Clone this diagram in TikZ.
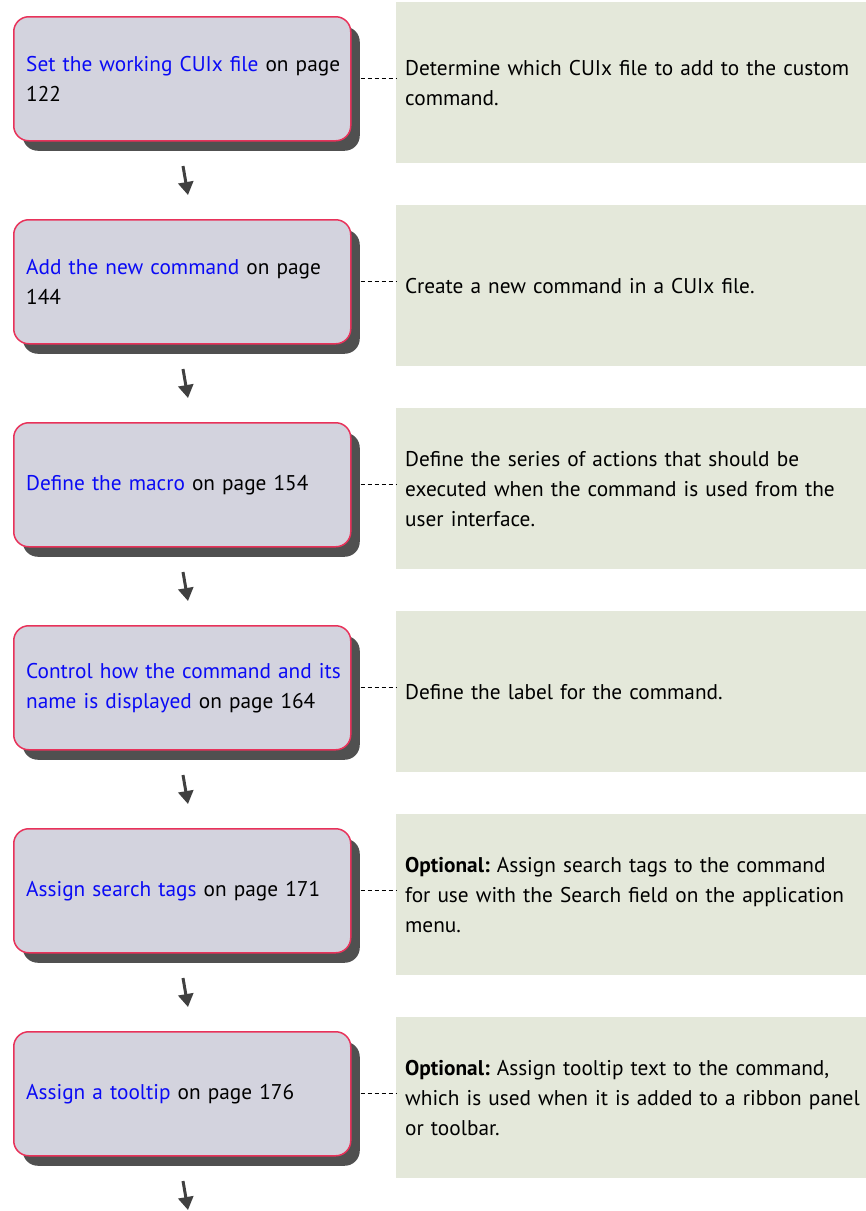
\documentclass[tikz,border=0pt]{standalone}
\usepackage{fontspec}
\setmainfont{PT Sans}
\usetikzlibrary{shadows,arrows.meta}
\definecolor{boxfill}{RGB}{211,211,222}
\definecolor{boxred}{RGB}{232,50,90}
\definecolor{notefill}{RGB}{228,232,218}
\definecolor{shadowgray}{RGB}{80,80,80}
\definecolor{arrowgray}{RGB}{64,64,64}
\definecolor{linkblue}{RGB}{10,10,245}
\tikzset{
  stepbox/.style={draw=boxred, line width=1.5pt, fill=boxfill, rounded corners=15pt,
    minimum width=337pt, minimum height=124pt, inner sep=0pt, anchor=north west,
    drop shadow={shadow xshift=9pt, shadow yshift=-10pt, fill=shadowgray, opacity=1}},
  steptext/.style={anchor=west, align=left, text width=340pt, inner sep=0pt,
    font=\fontsize{21.3}{30}\selectfont},
  notebox/.style={fill=notefill, minimum width=470pt, minimum height=161pt, inner sep=0pt, anchor=north west},
  notetext/.style={anchor=west, align=left, text width=480pt, inner sep=0pt,
    font=\fontsize{21.3}{30}\selectfont},
  dashline/.style={draw=black, line width=1.3pt, dash pattern=on 4pt off 3pt},
  flowarrow/.style={draw=arrowgray, line width=3pt, -{Triangle[width=15pt,length=13pt]}},
}
\newcommand{\lnk}[1]{\textcolor{linkblue}{#1}}
\frenchspacing
\begin{document}
\begin{tikzpicture}[x=1pt,y=-1pt]
\useasboundingbox[fill=white] (0,0) rectangle (866,1211);
% boxes
\node[stepbox] (b1) at (13,16) {};
\node[stepbox] (b2) at (13,219) {};
\node[stepbox] (b3) at (13,422) {};
\node[stepbox] (b4) at (13,625) {};
\node[stepbox] (b5) at (13,828) {};
\node[stepbox] (b6) at (13,1031) {};
\node[steptext] (t1) at ([xshift=13pt]b1.west) {\lnk{Set the working CUIx file} on page\\122};
\node[steptext] (t2) at ([xshift=13pt]b2.west) {\lnk{Add the new command} on page\\144};
\node[steptext] (t3) at ([xshift=13pt]b3.west) {\lnk{Define the macro} on page 154};
\node[steptext] (t4) at ([xshift=13pt]b4.west) {\lnk{Control how the command and its}\\\lnk{name is displayed} on page 164};
\node[steptext] (t5) at ([xshift=13pt]b5.west) {\lnk{Assign search tags} on page 171};
\node[steptext] (t6) at ([xshift=13pt]b6.west) {\lnk{Assign a tooltip} on page 176};
% notes
\node[notebox] (n1) at (396,2) {};
\node[notebox] (n2) at (396,205) {};
\node[notebox] (n3) at (396,408) {};
\node[notebox] (n4) at (396,611) {};
\node[notebox] (n5) at (396,814) {};
\node[notebox] (n6) at (396,1017) {};
\node[notetext] (m1) at ([xshift=9pt]n1.west) {Determine which CUIx file to add to the custom\\command.};
\node[notetext] (m2) at ([xshift=9pt]n2.west) {Create a new command in a CUIx file.};
\node[notetext] (m3) at ([xshift=9pt]n3.west) {Define the series of actions that should be\\executed when the command is used from the\\user interface.};
\node[notetext] (m4) at ([xshift=9pt]n4.west) {Define the label for the command.};
\node[notetext] (m5) at ([xshift=9pt]n5.west) {\textbf{Optional:} Assign search tags to the command\\for use with the Search field on the application\\menu.};
\node[notetext] (m6) at ([xshift=9pt]n6.west) {\textbf{Optional:} Assign tooltip text to the command,\\which is used when it is added to a ribbon panel\\or toolbar.};
% dashed connectors
\foreach \i in {1,...,6}{
  \draw[dashline] ([xshift=9pt]b\i.east) -- (n\i.west |- b\i.east);
}
% arrows
\foreach \i in {1,...,6}{
  \coordinate (s\i) at (183,{166+203*(\i-1)});
  \coordinate (e\i) at (188,{195+203*(\i-1)});
  \draw[flowarrow] (s\i) -- (e\i);
}
\end{tikzpicture}
\end{document}
